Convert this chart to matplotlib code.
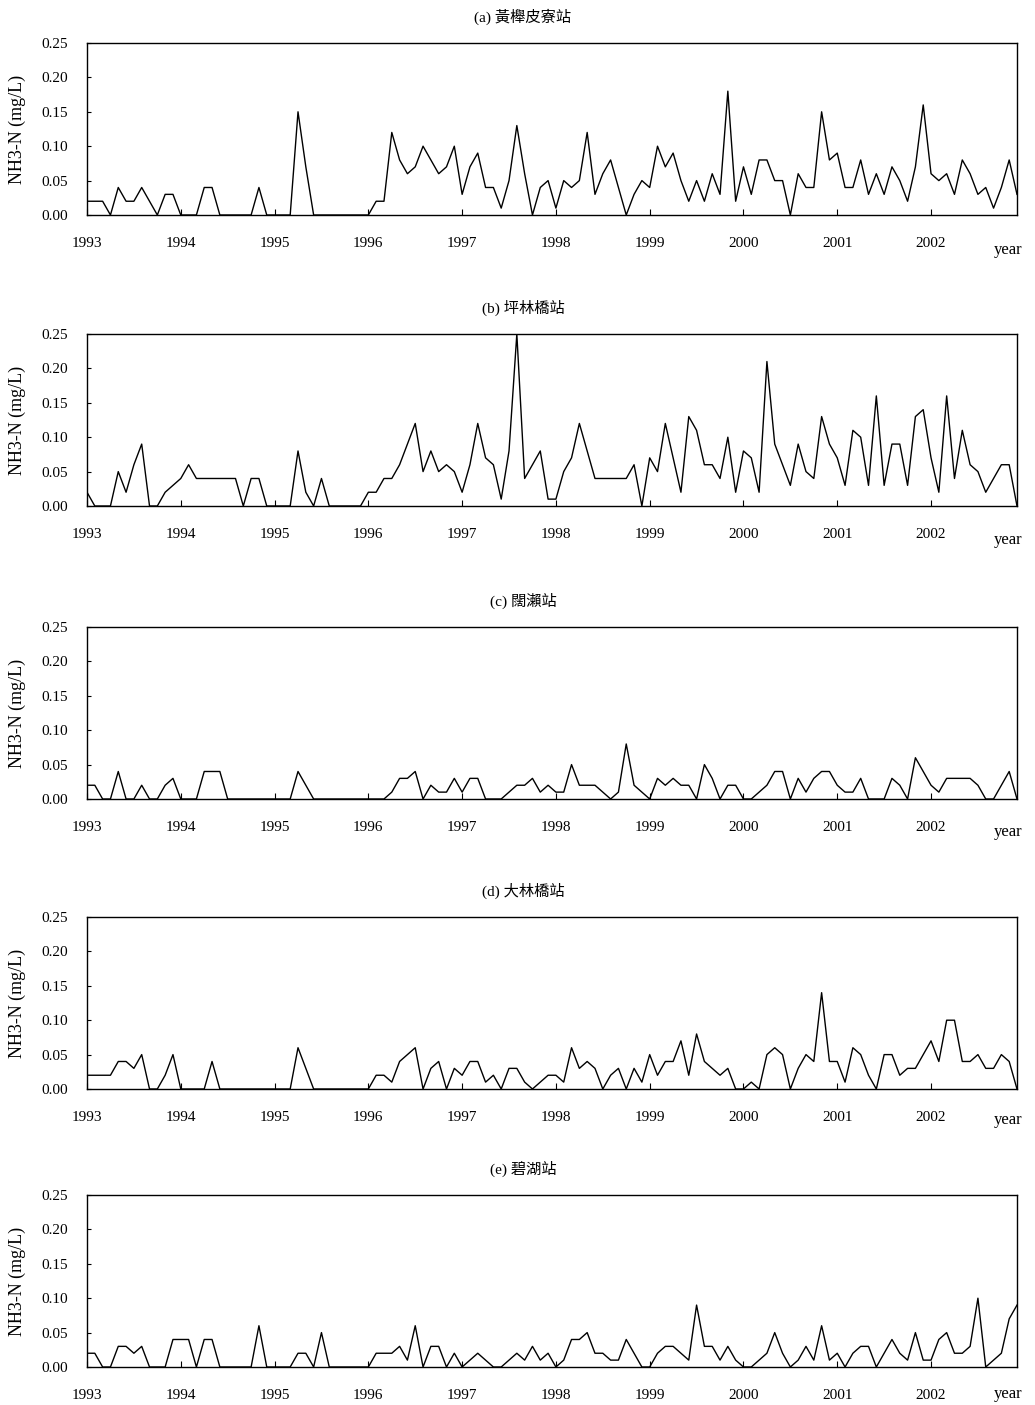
import matplotlib
matplotlib.use('Agg')
import matplotlib.pyplot as plt
import numpy as np

# monthly NH3-N (mg/L), Jan 1993 .. Dec 2002
site_a = [0.02, 0.02, 0.02, 0, 0.04, 0.02, 0.02, 0.04, 0.02, 0, 0.03, 0.03,
          0, 0, 0, 0.04, 0.04, 0, 0, 0, 0, 0, 0.04, 0,
          0, 0, 0, 0.15, 0.07, 0, 0, 0, 0, 0, 0, 0,
          0, 0.02, 0.02, 0.12, 0.08, 0.06, 0.07, 0.10, 0.08, 0.06, 0.07, 0.10,
          0.03, 0.07, 0.09, 0.04, 0.04, 0.01, 0.05, 0.13, 0.06, 0, 0.04, 0.05,
          0.01, 0.05, 0.04, 0.05, 0.12, 0.03, 0.06, 0.08, 0.04, 0, 0.03, 0.05,
          0.04, 0.10, 0.07, 0.09, 0.05, 0.02, 0.05, 0.02, 0.06, 0.03, 0.18, 0.02,
          0.07, 0.03, 0.08, 0.08, 0.05, 0.05, 0, 0.06, 0.04, 0.04, 0.15, 0.08,
          0.09, 0.04, 0.04, 0.08, 0.03, 0.06, 0.03, 0.07, 0.05, 0.02, 0.07, 0.16,
          0.06, 0.05, 0.06, 0.03, 0.08, 0.06, 0.03, 0.04, 0.01, 0.04, 0.08, 0.03]

site_b = [0.02, 0, 0, 0, 0.05, 0.02, 0.06, 0.09, 0, 0, 0.02, 0.03,
          0.04, 0.06, 0.04, 0.04, 0.04, 0.04, 0.04, 0.04, 0, 0.04, 0.04, 0,
          0, 0, 0, 0.08, 0.02, 0, 0.04, 0, 0, 0, 0, 0,
          0.02, 0.02, 0.04, 0.04, 0.06, 0.09, 0.12, 0.05, 0.08, 0.05, 0.06, 0.05,
          0.02, 0.06, 0.12, 0.07, 0.06, 0.01, 0.08, 0.25, 0.04, 0.06, 0.08, 0.01,
          0.01, 0.05, 0.07, 0.12, 0.08, 0.04, 0.04, 0.04, 0.04, 0.04, 0.06, 0,
          0.07, 0.05, 0.12, 0.07, 0.02, 0.13, 0.11, 0.06, 0.06, 0.04, 0.10, 0.02,
          0.08, 0.07, 0.02, 0.21, 0.09, 0.06, 0.03, 0.09, 0.05, 0.04, 0.13, 0.09,
          0.07, 0.03, 0.11, 0.10, 0.03, 0.16, 0.03, 0.09, 0.09, 0.03, 0.13, 0.14,
          0.07, 0.02, 0.16, 0.04, 0.11, 0.06, 0.05, 0.02, 0.04, 0.06, 0.06, 0]

site_c = [0.02, 0.02, 0, 0, 0.04, 0, 0, 0.02, 0, 0, 0.02, 0.03,
          0, 0, 0, 0.04, 0.04, 0.04, 0, 0, 0, 0, 0, 0,
          0, 0, 0, 0.04, 0.02, 0, 0, 0, 0, 0, 0, 0,
          0, 0, 0, 0.01, 0.03, 0.03, 0.04, 0, 0.02, 0.01, 0.01, 0.03,
          0.01, 0.03, 0.03, 0, 0, 0, 0.01, 0.02, 0.02, 0.03, 0.01, 0.02,
          0.01, 0.01, 0.05, 0.02, 0.02, 0.02, 0.01, 0, 0.01, 0.08, 0.02, 0.01,
          0, 0.03, 0.02, 0.03, 0.02, 0.02, 0, 0.05, 0.03, 0, 0.02, 0.02,
          0, 0, 0.01, 0.02, 0.04, 0.04, 0, 0.03, 0.01, 0.03, 0.04, 0.04,
          0.02, 0.01, 0.01, 0.03, 0, 0, 0, 0.03, 0.02, 0, 0.06, 0.04,
          0.02, 0.01, 0.03, 0.03, 0.03, 0.03, 0.02, 0, 0, 0.02, 0.04, 0]

site_d = [0.02, 0.02, 0.02, 0.02, 0.04, 0.04, 0.03, 0.05, 0, 0, 0.02, 0.05,
          0, 0, 0, 0, 0.04, 0, 0, 0, 0, 0, 0, 0,
          0, 0, 0, 0.06, 0.03, 0, 0, 0, 0, 0, 0, 0,
          0, 0.02, 0.02, 0.01, 0.04, 0.05, 0.06, 0, 0.03, 0.04, 0, 0.03,
          0.02, 0.04, 0.04, 0.01, 0.02, 0, 0.03, 0.03, 0.01, 0, 0.01, 0.02,
          0.02, 0.01, 0.06, 0.03, 0.04, 0.03, 0, 0.02, 0.03, 0, 0.03, 0.01,
          0.05, 0.02, 0.04, 0.04, 0.07, 0.02, 0.08, 0.04, 0.03, 0.02, 0.03, 0,
          0, 0.01, 0, 0.05, 0.06, 0.05, 0, 0.03, 0.05, 0.04, 0.14, 0.04,
          0.04, 0.01, 0.06, 0.05, 0.02, 0, 0.05, 0.05, 0.02, 0.03, 0.03, 0.05,
          0.07, 0.04, 0.10, 0.10, 0.04, 0.04, 0.05, 0.03, 0.03, 0.05, 0.04, 0]

site_e = [0.02, 0.02, 0, 0, 0.03, 0.03, 0.02, 0.03, 0, 0, 0, 0.04,
          0.04, 0.04, 0, 0.04, 0.04, 0, 0, 0, 0, 0, 0.06, 0,
          0, 0, 0, 0.02, 0.02, 0, 0.05, 0, 0, 0, 0, 0,
          0, 0.02, 0.02, 0.02, 0.03, 0.01, 0.06, 0, 0.03, 0.03, 0, 0.02,
          0, 0.01, 0.02, 0.01, 0, 0, 0.01, 0.02, 0.01, 0.03, 0.01, 0.02,
          0, 0.01, 0.04, 0.04, 0.05, 0.02, 0.02, 0.01, 0.01, 0.04, 0.02, 0,
          0, 0.02, 0.03, 0.03, 0.02, 0.01, 0.09, 0.03, 0.03, 0.01, 0.03, 0.01,
          0, 0, 0.01, 0.02, 0.05, 0.02, 0, 0.01, 0.03, 0.01, 0.06, 0.01,
          0.02, 0, 0.02, 0.03, 0.03, 0, 0.02, 0.04, 0.02, 0.01, 0.05, 0.01,
          0.01, 0.04, 0.05, 0.02, 0.02, 0.03, 0.10, 0, 0.01, 0.02, 0.07, 0.09]

titles = ['(a) 黃櫸皮寮站', '(b) 坪林橋站', '(c) 闊瀨站', '(d) 大林橋站', '(e) 碧湖站']
years = list(range(1993, 2003))
yticks = [0.00, 0.05, 0.10, 0.15, 0.20, 0.25]

series = [site_a, site_b, site_c, site_d, site_e]
x = 1993 + np.arange(120) / 12.0

W, H = 1035, 1405
fig = plt.figure(figsize=(W / 100, H / 100), dpi=100)

# axes bottom edges (pixels from top) and "year" label offsets below them
bottoms = [215, 506, 799, 1089, 1367]
year_off = [35, 34, 33, 31, 27]
ax_h = 172
left, right = 87, 1017

serif = ['Liberation Serif', 'DejaVu Serif']
cjk = ['Liberation Serif', 'Noto Sans CJK TC', 'DejaVu Sans']

for i in range(5):
    b = bottoms[i]
    ax = fig.add_axes([left / W, 1 - b / H, (right - left) / W, ax_h / H])
    ax.plot(x, series[i], color='black', lw=1.0)
    ax.set_xlim(1993, x[-1])
    ax.set_ylim(0, 0.25)
    ax.set_xticks(years)
    ax.set_xticklabels([str(y) for y in years], family=serif, fontsize=11)
    ax.set_yticks(yticks)
    ax.set_yticklabels(['%.2f' % v for v in yticks], family=serif, fontsize=11)
    ax.tick_params(axis='x', direction='in', length=4, width=0.8, pad=16)
    ax.tick_params(axis='y', direction='in', length=3, width=0.8, pad=14)
    for s in ax.spines.values():
        s.set_linewidth(1.0)
    ax.set_ylabel('NH3-N (mg/L)', family=serif, fontsize=13)
    ax.yaxis.set_label_coords(-0.066, 0.5)
    ax.text(0.99, -year_off[i] / ax_h, 'year', transform=ax.transAxes,
            ha='center', va='center', family=serif, fontsize=12)
    fig.text(523 / W, 1 - (b - ax_h - 26) / H, titles[i], ha='center', va='center',
             family=cjk, fontsize=11)

plt.savefig('out.png', dpi=100)
plt.close()
